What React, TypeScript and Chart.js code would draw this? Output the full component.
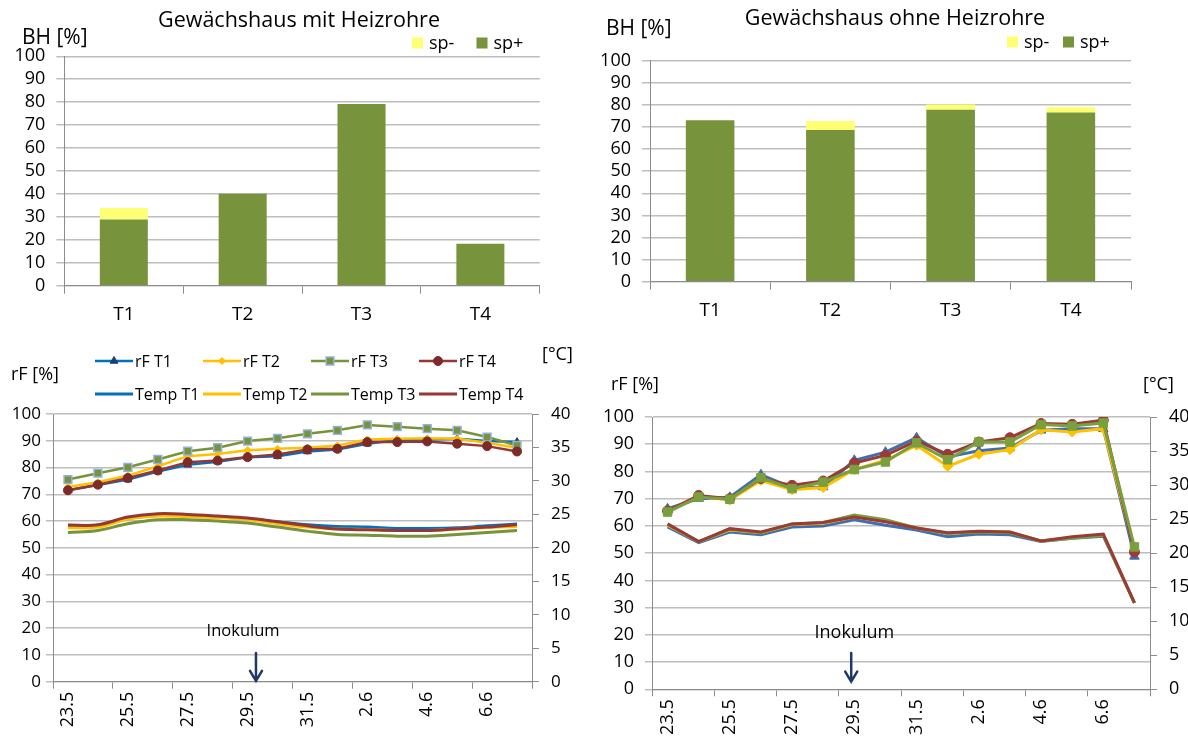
import React, { useEffect, useRef } from 'react';
import { Chart, registerables } from 'chart.js';
import { drawPoint } from 'chart.js/helpers';

Chart.register(...registerables);

const FONT = "'Open Sans', 'Liberation Sans', sans-serif";

// ---------- data: bar charts ----------
const barCategories = ['T1', 'T2', 'T3', 'T4'];
const mitSpPlus = [28.9, 40.1, 79.2, 18.3];
const mitSpMinus = [5.0, 0, 0, 0];
const ohneSpPlus = [73.0, 68.6, 77.8, 76.6];
const ohneSpMinus = [0, 4.1, 2.4, 2.3];

// ---------- data: line charts ----------
const dates = ['23.5', '24.5', '25.5', '26.5', '27.5', '28.5', '29.5', '30.5', '31.5', '1.6', '2.6', '3.6', '4.6', '5.6', '6.6', '7.6'];

const mitRfT1 = [71.5, 73.5, 75.5, 78.5, 81.0, 82.2, 83.8, 84.2, 86.0, 86.75, 88.9, 90.25, 90.5, 90.75, 89.9, 89.5];
const mitRfT2 = [72.75, 74.5, 77.0, 80.5, 84.25, 85.1, 86.5, 87.0, 87.4, 88.25, 90.5, 90.75, 90.9, 90.75, 89.25, 87.4];
const mitRfT3 = [75.5, 77.9, 80.1, 83.0, 86.1, 87.4, 89.9, 90.9, 92.6, 93.9, 95.9, 95.25, 94.5, 93.9, 91.4, 88.25];
const mitRfT4 = [71.5, 73.6, 76.1, 78.9, 82.0, 82.6, 83.9, 84.9, 86.75, 87.0, 89.5, 89.5, 89.75, 88.9, 88.0, 86.0];
const mitTempT1 = [23.2, 23.25, 24.4, 24.85, 24.85, 24.6, 24.35, 23.85, 23.45, 23.2, 23.1, 22.9, 22.9, 23.0, 23.3, 23.55];
const mitTempT2 = [23.0, 23.1, 24.3, 24.75, 24.65, 24.5, 24.25, 23.6, 23.1, 22.8, 22.75, 22.6, 22.6, 22.8, 23.05, 23.2];
const mitTempT3 = [22.3, 22.6, 23.6, 24.2, 24.2, 24.0, 23.7, 23.1, 22.5, 22.0, 21.9, 21.75, 21.75, 22.0, 22.3, 22.6];
const mitTempT4 = [23.4, 23.45, 24.6, 25.1, 25.0, 24.75, 24.45, 23.9, 23.3, 22.8, 22.7, 22.6, 22.6, 22.85, 23.1, 23.5];

const ohneRfT1 = [66.3, 70.0, 70.5, 78.8, 74.1, 74.3, 84.1, 87.1, 92.4, 85.3, 87.6, 88.6, 95.1, 95.7, 95.7, 48.8];
const ohneRfT2 = [65.5, 70.8, 69.5, 76.7, 73.3, 74.1, 80.7, 84.1, 89.6, 81.9, 86.3, 88.0, 95.3, 94.5, 95.7, 51.0];
const ohneRfT3 = [65.1, 70.6, 69.8, 77.7, 73.7, 76.1, 80.7, 83.5, 90.5, 84.3, 90.8, 90.8, 97.2, 96.7, 97.8, 52.3];
const ohneRfT4 = [65.5, 71.2, 70.0, 77.4, 74.9, 76.5, 83.1, 85.9, 91.2, 86.3, 90.8, 92.4, 97.6, 97.3, 98.8, 50.4];
const ohneTempT1 = [23.85, 21.55, 23.1, 22.7, 23.85, 24.0, 24.9, 24.1, 23.4, 22.4, 22.8, 22.7, 21.7, 22.2, 22.5, 12.7];
const ohneTempT2 = [24.1, 21.7, 23.4, 23.0, 24.2, 24.4, 25.3, 24.8, 23.7, 22.9, 23.2, 23.1, 21.8, 22.3, 22.7, 12.7];
const ohneTempT3 = [24.2, 21.7, 23.5, 23.0, 24.3, 24.5, 25.6, 24.9, 23.7, 22.9, 23.1, 23.0, 21.8, 22.2, 22.6, 12.7];
const ohneTempT4 = [24.3, 21.7, 23.6, 23.1, 24.3, 24.5, 25.3, 24.6, 23.7, 23.0, 23.2, 23.1, 21.8, 22.4, 22.8, 12.7];

// Inokulum annotation (category index / value)
const mitInokulum = { textIdx: 5.85, textVal: 18.7, arrowIdx: 6.28, arrowFrom: 10.7, arrowTo: 0.3 };
const ohneInokulum = { textIdx: 6.0, textVal: 20.8, arrowIdx: 5.9, arrowFrom: 13.3, arrowTo: 2.8 };

// ---------- styles ----------
const GREEN = '#77933C';
const YELLOW_BAR = '#FFFF75';
const GRID = '#BEBEBE';
const AXIS = '#8C8C8C';
const BLUE = '#0070C0';
const NAVY = '#1F3F6E';
const GOLD = '#FFC000';
const RED = '#953735';
const DARKRED = '#7E2A28';
const ARROW = '#1F3864';

type TextItem = { text: string; x: number; y: number; size: number; align?: CanvasTextAlign };
type LegendItem = { ds: number; label: string; x: number; y: number; kind: 'box' | 'line'; size: number };
type Annot = { textIdx: number; textVal: number; arrowIdx: number; arrowFrom: number; arrowTo: number; size: number };

function decor(texts: TextItem[], legend: LegendItem[], annot?: Annot) {
  return {
    id: 'decor',
    afterDraw(chart: any) {
      const ctx: CanvasRenderingContext2D = chart.ctx;
      ctx.save();
      ctx.textBaseline = 'middle';
      ctx.fillStyle = '#000';
      for (const t of texts) {
        ctx.font = `${t.size}px ${FONT}`;
        ctx.textAlign = t.align || 'left';
        ctx.fillStyle = '#000';
        ctx.fillText(t.text, t.x, t.y);
      }
      for (const l of legend) {
        const ds = chart.data.datasets[l.ds];
        ctx.font = `${l.size}px ${FONT}`;
        ctx.textAlign = 'left';
        if (l.kind === 'box') {
          ctx.fillStyle = ds.backgroundColor;
          ctx.fillRect(l.x, l.y - 5.5, 11, 11);
          ctx.fillStyle = '#000';
          ctx.fillText(l.label, l.x + 17, l.y + 1);
        } else {
          ctx.strokeStyle = ds.borderColor;
          ctx.lineWidth = ds.borderWidth;
          ctx.beginPath();
          ctx.moveTo(l.x, l.y);
          ctx.lineTo(l.x + 38, l.y);
          ctx.stroke();
          if (ds.pointRadius > 0) {
            ctx.fillStyle = ds.pointBackgroundColor;
            ctx.strokeStyle = ds.pointBorderColor;
            ctx.lineWidth = ds.pointBorderWidth;
            drawPoint(ctx, { pointStyle: ds.pointStyle, radius: ds.pointRadius, rotation: 0, borderWidth: ds.pointBorderWidth } as any, l.x + 19, l.y);
          }
          ctx.fillStyle = '#000';
          ctx.fillText(l.label, l.x + 40, l.y + 1);
        }
      }
      if (annot) {
        const xs = chart.scales.x;
        const ys = chart.scales.y;
        ctx.font = `${annot.size}px ${FONT}`;
        ctx.textAlign = 'center';
        ctx.fillStyle = '#000';
        ctx.fillText('Inokulum', xs.getPixelForValue(annot.textIdx), ys.getPixelForValue(annot.textVal));
        const ax = xs.getPixelForValue(annot.arrowIdx);
        const y0 = ys.getPixelForValue(annot.arrowFrom);
        const y1 = ys.getPixelForValue(annot.arrowTo);
        ctx.strokeStyle = ARROW;
        ctx.lineWidth = 2.5;
        ctx.lineCap = 'round';
        ctx.beginPath();
        ctx.moveTo(ax, y0);
        ctx.lineTo(ax, y1);
        ctx.moveTo(ax - 6, y1 - 10);
        ctx.lineTo(ax, y1);
        ctx.lineTo(ax + 6, y1 - 10);
        ctx.stroke();
      }
      ctx.restore();
    },
  };
}

function barConfig(spPlus: number[], spMinus: number[], area: { l: number; r: number; t: number; b: number; w: number; h: number },
  texts: TextItem[], legend: LegendItem[]) {
  return {
    type: 'bar',
    data: {
      labels: barCategories,
      datasets: [
        { label: 'sp+', data: spPlus, backgroundColor: GREEN, stack: 's', categoryPercentage: 0.404, barPercentage: 1 },
        { label: 'sp-', data: spMinus, backgroundColor: YELLOW_BAR, stack: 's', categoryPercentage: 0.404, barPercentage: 1 },
      ],
    },
    options: {
      responsive: false,
      animation: false,
      devicePixelRatio: 1,
      layout: { padding: { top: area.t, left: 0, right: area.w - area.r, bottom: 0 } },
      plugins: { legend: { display: false }, tooltip: { enabled: false }, title: { display: false } },
      scales: {
        x: {
          stacked: true,
          grid: { offset: true, drawOnChartArea: false, tickLength: 8, color: AXIS, lineWidth: 1 },
          border: { color: AXIS, width: 1 },
          ticks: { font: { family: FONT, size: 19 }, color: '#000', padding: 9 },
          afterFit: (s: any) => { s.height = area.h - area.b; },
        },
        y: {
          stacked: true,
          min: 0,
          max: 100,
          grid: { color: GRID, lineWidth: 1.5, tickLength: 8 },
          border: { color: AXIS, width: 1 },
          ticks: { stepSize: 10, autoSkip: false, font: { family: FONT, size: 18 }, color: '#000', padding: 11 },
          afterFit: (s: any) => { s.width = area.l; },
        },
      },
    },
    plugins: [decor(texts, legend)],
  };
}

function lineDs(label: string, data: number[], axis: string, color: string, width: number, tension: number,
  point?: { style: string; r: number; bg: string; border: string; bw: number }) {
  return {
    label,
    data,
    yAxisID: axis,
    borderColor: color,
    backgroundColor: color,
    borderWidth: width,
    tension,
    pointStyle: point ? point.style : 'circle',
    pointRadius: point ? point.r : 0,
    pointBackgroundColor: point ? point.bg : color,
    pointBorderColor: point ? point.border : color,
    pointBorderWidth: point ? point.bw : 0,
    fill: false,
  };
}

function lineConfig(datasets: any[], area: { l: number; r: number; t: number; b: number; w: number; h: number },
  fonts: { tick: number; xtick: number }, texts: TextItem[], legend: LegendItem[], annot: Annot, gaps: { left: number; right: number }) {
  datasets.forEach((d, i) => { if (d.order === undefined) d.order = -i; });
  return {
    type: 'line',
    data: { labels: dates, datasets },
    options: {
      responsive: false,
      animation: false,
      devicePixelRatio: 1,
      layout: { padding: { top: area.t, left: 0, right: 0, bottom: 0 } },
      plugins: { legend: { display: false }, tooltip: { enabled: false }, title: { display: false } },
      scales: {
        x: {
          type: 'category',
          offset: true,
          grid: {
            offset: true,
            drawOnChartArea: false,
            tickLength: 7,
            lineWidth: 1,
            color: (c: any) => (c.index === undefined || c.index % 2 === 0 ? AXIS : 'rgba(0,0,0,0)'),
          },
          border: { color: AXIS, width: 1 },
          ticks: {
            autoSkip: false,
            minRotation: 90,
            maxRotation: 90,
            padding: 3,
            font: { family: FONT, size: fonts.xtick },
            color: '#000',
            callback: (_v: any, i: number) => (i % 2 === 0 ? dates[i] : ''),
          },
          afterFit: (s: any) => { s.height = area.h - area.b; },
        },
        y: {
          position: 'left',
          min: 0,
          max: 100,
          grid: { color: GRID, lineWidth: 1.5, tickLength: 7 },
          border: { color: AXIS, width: 1 },
          ticks: { stepSize: 10, autoSkip: false, font: { family: FONT, size: fonts.tick }, color: '#000', padding: gaps.left },
          afterFit: (s: any) => { s.width = area.l; },
        },
        y1: {
          position: 'right',
          min: 0,
          max: 40,
          grid: { drawOnChartArea: false, color: AXIS, tickLength: 7 },
          border: { color: AXIS, width: 1 },
          ticks: { stepSize: 5, autoSkip: false, font: { family: FONT, size: fonts.tick }, color: '#000', padding: gaps.right },
          afterFit: (s: any) => { s.width = area.w - area.r; },
        },
      },
    },
    plugins: [decor(texts, legend, annot)],
  };
}

function Panel({ left, top, width, height, make }: { left: number; top: number; width: number; height: number; make: () => any }) {
  const ref = useRef<HTMLCanvasElement>(null);
  useEffect(() => {
    const chart = new Chart(ref.current as HTMLCanvasElement, make());
    return () => chart.destroy();
  }, []);
  return (
    <canvas ref={ref} width={width} height={height}
      style={{ position: 'absolute', left, top, width, height, display: 'block' }} />
  );
}

function mitBars() {
  return barConfig(mitSpPlus, mitSpMinus, { l: 64.4, r: 539.8, t: 56.3, b: 285.7, w: 594, h: 335 },
    [
      { text: 'Gewächshaus mit Heizrohre', x: 299, y: 21, size: 21.5, align: 'center' },
      { text: 'BH [%]', x: 22, y: 38, size: 21 },
    ],
    [
      { ds: 1, label: 'sp-', x: 412, y: 43, kind: 'box', size: 18 },
      { ds: 0, label: 'sp+', x: 476.5, y: 43, kind: 'box', size: 18 },
    ]);
}

function ohneBars() {
  return barConfig(ohneSpPlus, ohneSpMinus, { l: 56, r: 537, t: 60.7, b: 281.7, w: 594, h: 335 },
    [
      { text: 'Gewächshaus ohne Heizrohre', x: 301, y: 19, size: 21.5, align: 'center' },
      { text: 'BH [%]', x: 12, y: 29, size: 21 },
    ],
    [
      { ds: 1, label: 'sp-', x: 413, y: 42, kind: 'box', size: 18 },
      { ds: 0, label: 'sp+', x: 469, y: 42, kind: 'box', size: 18 },
    ]);
}

function mitLines() {
  const tri = { style: 'triangle', r: 4.5, bg: NAVY, border: NAVY, bw: 1 };
  const dia = { style: 'rectRot', r: 3.5, bg: GOLD, border: GOLD, bw: 1 };
  const sq = { style: 'rect', r: 5.5, bg: GREEN, border: '#95B3D7', bw: 1.5 };
  const circ = { style: 'circle', r: 4.5, bg: DARKRED, border: DARKRED, bw: 1 };
  const datasets = [
    lineDs('rF T1', mitRfT1, 'y', BLUE, 2.5, 0, tri),
    lineDs('rF T2', mitRfT2, 'y', GOLD, 2.5, 0, dia),
    lineDs('rF T3', mitRfT3, 'y', GREEN, 2.5, 0, sq),
    lineDs('rF T4', mitRfT4, 'y', RED, 2.5, 0, circ),
    lineDs('Temp T1', mitTempT1, 'y1', BLUE, 3, 0.35),
    lineDs('Temp T2', mitTempT2, 'y1', GOLD, 3, 0.35),
    lineDs('Temp T3', mitTempT3, 'y1', GREEN, 3, 0.35),
    lineDs('Temp T4', mitTempT4, 'y1', RED, 3, 0.35),
  ];
  const cols = [95, 203, 311, 419];
  const rows = [26, 59];
  const names = ['rF T1', 'rF T2', 'rF T3', 'rF T4', 'Temp T1', 'Temp T2', 'Temp T3', 'Temp T4'];
  const legend: LegendItem[] = names.map((n, i) => ({ ds: i, label: n, x: cols[i % 4], y: rows[Math.floor(i / 4)], kind: 'line', size: 16 }));
  return lineConfig(datasets, { l: 53, r: 532, t: 79, b: 346.7, w: 594, h: 403 }, { tick: 17, xtick: 18 },
    [
      { text: 'rF [%]', x: 11, y: 40, size: 18 },
      { text: '[°C]', x: 542, y: 20, size: 18 },
    ],
    legend, { ...mitInokulum, size: 16.5 }, { left: 5, right: 12 });
}

function ohneLines() {
  const tri = { style: 'triangle', r: 5.5, bg: '#3F6FB0', border: '#3F6FB0', bw: 1 };
  const dia = { style: 'rectRot', r: 5, bg: GOLD, border: GOLD, bw: 1 };
  const sq = { style: 'rect', r: 6, bg: '#7AA03E', border: '#7AA03E', bw: 1 };
  const circ = { style: 'circle', r: 5, bg: '#9B3B38', border: '#9B3B38', bw: 1 };
  const rf1 = lineDs('rF T1', ohneRfT1, 'y', '#3F6FB0', 3, 0, tri);
  const rf2 = lineDs('rF T2', ohneRfT2, 'y', GOLD, 3, 0, dia);
  const rf3 = lineDs('rF T3', ohneRfT3, 'y', '#7AA03E', 3, 0, sq);
  const rf4 = lineDs('rF T4', ohneRfT4, 'y', '#9B3B38', 3, 0, circ);
  // green series drawn on top, as in the reference
  (rf1 as any).order = 0;
  (rf2 as any).order = -1;
  (rf4 as any).order = -2;
  (rf3 as any).order = -3;
  const datasets = [
    rf1, rf2, rf3, rf4,
    lineDs('Temp T1', ohneTempT1, 'y1', '#3F6FB0', 3, 0),
    lineDs('Temp T2', ohneTempT2, 'y1', GOLD, 3, 0),
    lineDs('Temp T3', ohneTempT3, 'y1', '#7AA03E', 3, 0),
    lineDs('Temp T4', ohneTempT4, 'y1', '#9B3B38', 3, 0),
  ];
  return lineConfig(datasets, { l: 58, r: 556, t: 82, b: 354.3, w: 594, h: 403 }, { tick: 18, xtick: 18 },
    [
      { text: 'rF [%]', x: 17, y: 50, size: 18 },
      { text: '[°C]', x: 549, y: 50, size: 18 },
    ],
    [], { ...ohneInokulum, size: 18 }, { left: 11, right: 12 });
}

export default function App() {
  return (
    <div style={{ position: 'fixed', left: 0, top: 0, width: 1188, height: 738, overflow: 'hidden', background: '#fff' }}>
      <Panel left={0} top={0} width={594} height={335} make={mitBars} />
      <Panel left={594} top={0} width={594} height={335} make={ohneBars} />
      <Panel left={0} top={335} width={594} height={403} make={mitLines} />
      <Panel left={594} top={335} width={594} height={403} make={ohneLines} />
    </div>
  );
}
